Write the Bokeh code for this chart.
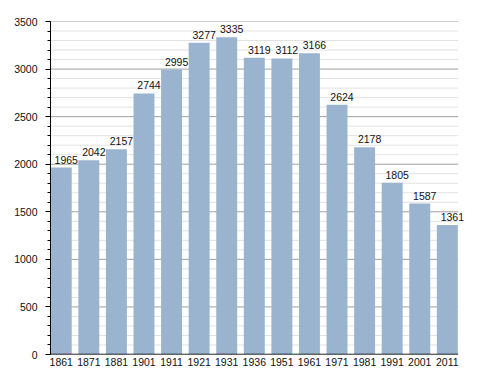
from bokeh.plotting import figure
from bokeh.models import Range1d, FixedTicker, ColumnDataSource, LabelSet
from bokeh.embed import file_html
from bokeh.resources import INLINE
from bokeh.core.properties import value

years = ["1861", "1871", "1881", "1901", "1911", "1921", "1931", "1936",
         "1951", "1961", "1971", "1981", "1991", "2001", "2011"]
population = [1965, 2042, 2157, 2744, 2995, 3277, 3335, 3119,
              3112, 3166, 2624, 2178, 1805, 1587, 1361]
y_ticks = [0, 500, 1000, 1500, 2000, 2500, 3000, 3500]
minor_step = 100

idx = list(range(len(years)))
src = ColumnDataSource(dict(x=idx, top=population, label=[str(v) for v in population]))

pad = 0.39
x_lo, x_hi = -pad, len(years) - 1 + pad
extra = 0.45  # room on the right for the last value label

p = figure(width=480, height=373, output_backend="svg", toolbar_location=None,
           x_range=Range1d(x_lo, x_hi + extra), y_range=Range1d(0, y_ticks[-1]),
           min_border_left=50, min_border_right=10, min_border_top=21, min_border_bottom=19)
p.outline_line_color = None
p.background_fill_color = "white"
p.border_fill_color = "white"

# grid lines drawn only across the bar area
minor_vals = [v for v in range(0, y_ticks[-1] + 1, minor_step) if v not in y_ticks]
p.segment(x0=[x_lo] * len(minor_vals), x1=[x_hi] * len(minor_vals), y0=minor_vals, y1=minor_vals,
          line_color="#E2E2E2", line_width=1)
p.segment(x0=[x_lo] * len(y_ticks), x1=[x_hi] * len(y_ticks), y0=y_ticks, y1=y_ticks,
          line_color="#A0A0A0", line_width=1)

p.vbar(x="x", top="top", width=0.76, bottom=0, source=src,
       fill_color="#9AB4CF", line_color=None)
labels = LabelSet(x="x", y="top", text="label", source=src, text_align="center",
                  text_baseline="bottom", x_offset=5, y_offset=4,
                  text_font=value("Liberation Sans"), text_font_size=value("10.5px"),
                  text_color="#111111")
p.add_layout(labels)

# x axis
p.xaxis.ticker = FixedTicker(ticks=idx)
p.xaxis.major_label_overrides = {i: y for i, y in enumerate(years)}
p.xaxis.major_tick_line_color = None
p.xaxis.major_tick_out = 0
p.xaxis.major_tick_in = 0
p.xaxis.minor_tick_line_color = None
p.xaxis.minor_tick_out = 0
p.xaxis.axis_line_color = None
p.xaxis.major_label_standoff = 3
p.xaxis.major_label_text_font = "Liberation Sans"
p.xaxis.major_label_text_font_size = "10.5px"
p.xaxis.major_label_text_color = "#111111"
p.xgrid.grid_line_color = None
p.segment(x0=[x_lo], x1=[x_hi], y0=[0], y1=[0], line_color="black", line_width=1.5)

# y axis
p.yaxis.ticker = FixedTicker(ticks=y_ticks, minor_ticks=list(range(0, y_ticks[-1] + 1, minor_step)))
p.yaxis.major_tick_out = 5
p.yaxis.major_tick_in = 0
p.yaxis.minor_tick_out = 3
p.yaxis.minor_tick_in = 0
p.yaxis.axis_line_color = "black"
p.yaxis.major_tick_line_color = "black"
p.yaxis.minor_tick_line_color = "black"
p.yaxis.major_label_standoff = 8
p.yaxis.major_label_text_font = "Liberation Sans"
p.yaxis.major_label_text_font_size = "10.5px"
p.yaxis.major_label_text_color = "#111111"
p.ygrid.grid_line_color = None

open("out.html", "w").write(file_html(p, INLINE))
